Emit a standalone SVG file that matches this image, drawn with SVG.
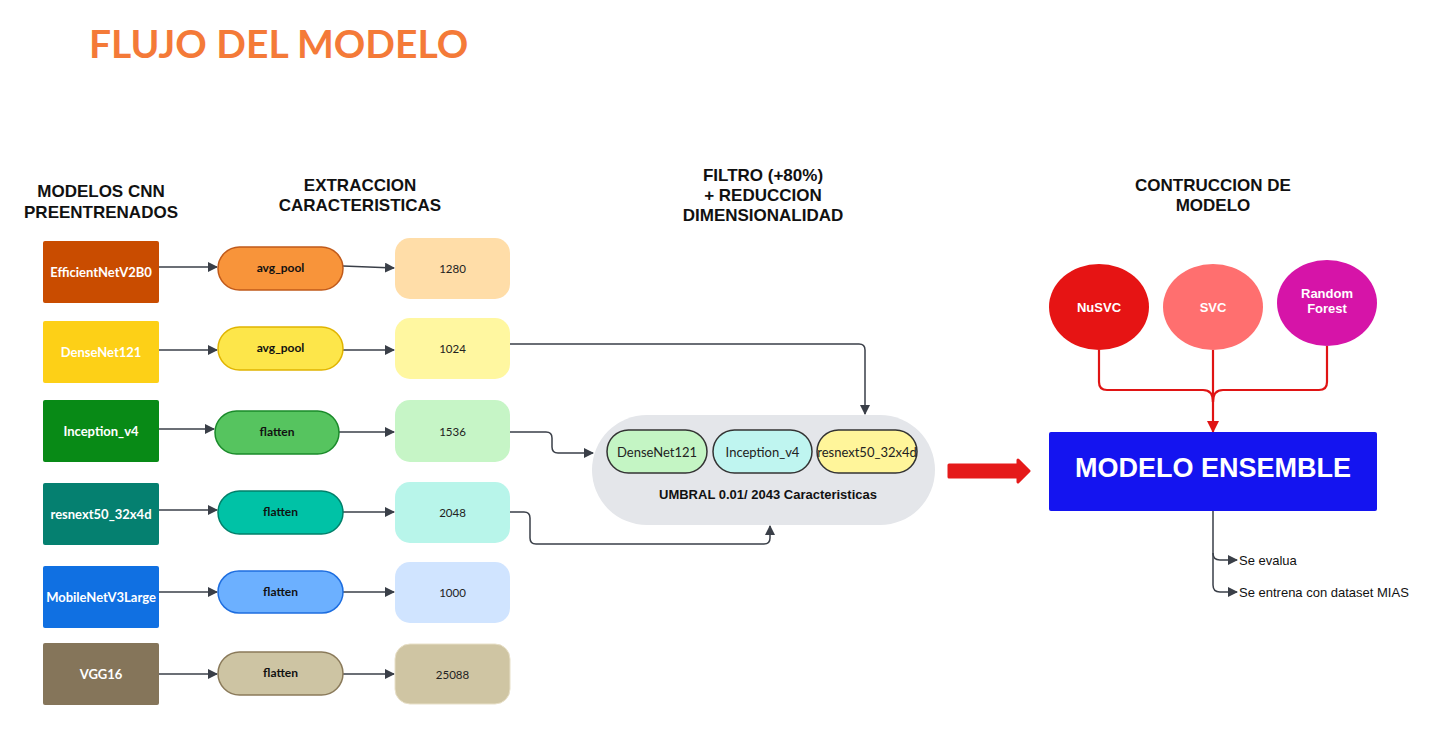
<svg xmlns="http://www.w3.org/2000/svg" width="1433" height="751" viewBox="0 0 1433 751">
<style>
.hdr{font-family:"Liberation Sans",Arial,sans-serif;font-weight:bold;font-size:17px;fill:#111;text-anchor:middle}
.bt{font-family:Lato,"Liberation Sans",sans-serif;font-weight:bold;font-size:13px;fill:#fff;text-anchor:middle}
.pt{font-family:Lato,"Liberation Sans",sans-serif;font-weight:bold;font-size:12px;fill:#111;text-anchor:middle}
.vt{font-family:Lato,"Liberation Sans",sans-serif;font-size:11.5px;fill:#222;text-anchor:middle}
.it{font-family:Lato,"Liberation Sans",sans-serif;font-size:13px;fill:#222;text-anchor:middle}
.ct{font-family:"Liberation Sans",Arial,sans-serif;font-weight:bold;font-size:13px;fill:#fff;text-anchor:middle}
.ot{font-family:"Liberation Sans",Arial,sans-serif;font-size:13px;fill:#111}
.cn{fill:none;stroke:#3a3f48;stroke-width:1.5}
.rc{fill:none;stroke:#e01414;stroke-width:2.2}
.pill{stroke-width:1.5}
</style>
<defs>
<marker id="ah" markerUnits="userSpaceOnUse" markerWidth="10" markerHeight="10" refX="9" refY="5" orient="auto">
<path d="M0,0 L10,5 L0,10 Z" fill="#3a3f48"/>
</marker>
<marker id="rh" markerUnits="userSpaceOnUse" markerWidth="12" markerHeight="12" refX="11" refY="6" orient="auto">
<path d="M0,0 L12,6 L0,12 Z" fill="#e01414"/>
</marker>
</defs>
<rect width="1433" height="751" fill="#fff"/>
<text x="89" y="58" font-family="Lato,'Liberation Sans',sans-serif" font-weight="bold" font-size="39" fill="#f47a38">FLUJO DEL MODELO</text>

<g id="headers">
<text class="hdr" x="101" y="197">MODELOS CNN</text>
<text class="hdr" x="101" y="218">PREENTRENADOS</text>
<text class="hdr" x="360" y="191">EXTRACCION</text>
<text class="hdr" x="360" y="211">CARACTERISTICAS</text>
<text class="hdr" x="763" y="181">FILTRO (+80%)</text>
<text class="hdr" x="763" y="201">+ REDUCCION</text>
<text class="hdr" x="763" y="221">DIMENSIONALIDAD</text>
<text class="hdr" x="1213" y="191">CONTRUCCION DE</text>
<text class="hdr" x="1213" y="211">MODELO</text>
</g>

<g id="connectors">
<path class="cn" marker-end="url(#ah)" d="M159,267 L217,267"/>
<path class="cn" marker-end="url(#ah)" d="M343,266 L394,268"/>
<path class="cn" marker-end="url(#ah)" d="M159,350 L217,350"/>
<path class="cn" marker-end="url(#ah)" d="M343,350 L394,350"/>
<path class="cn" marker-end="url(#ah)" d="M159,429 L214,429"/>
<path class="cn" marker-end="url(#ah)" d="M339,432 L394,432"/>
<path class="cn" marker-end="url(#ah)" d="M159,510 L217,510"/>
<path class="cn" marker-end="url(#ah)" d="M343,512 L394,512"/>
<path class="cn" marker-end="url(#ah)" d="M159,592 L217,592"/>
<path class="cn" marker-end="url(#ah)" d="M343,592 L394,592"/>
<path class="cn" marker-end="url(#ah)" d="M159,674 L217,674"/>
<path class="cn" marker-end="url(#ah)" d="M343,674 L394,674"/>
<path class="cn" marker-end="url(#ah)" d="M510,344 L859,344 Q865,344 865,350 L865,414"/>
<path class="cn" marker-end="url(#ah)" d="M510,432 L546,432 Q552,432 552,438 L552,447 Q552,453 558,453 L593,453"/>
<path class="cn" marker-end="url(#ah)" d="M510,512 L524,512 Q530,512 530,518 L530,538 Q530,544 536,544 L764,544 Q770,544 770,538 L770,526"/>
<path class="rc" d="M1099,350 L1099,382 Q1099,390 1107,390 L1203,390 Q1213,390 1213,402"/>
<path class="rc" d="M1327,346 L1327,382 Q1327,390 1319,390 L1223,390 Q1213,390 1213,402"/>
<path class="rc" marker-end="url(#rh)" d="M1213,350 L1213,432"/>
<path class="cn" d="M1213,511 L1213,585 Q1213,592 1220,592 L1237,592" marker-end="url(#ah)"/>
<path class="cn" d="M1213,553 Q1213,560 1220,560 L1237,560" marker-end="url(#ah)"/>
<path d="M949,465 L1018,465 L1018,460 L1029,471 L1018,482 L1018,477 L949,477 Z" fill="#e51a1a" stroke="#e51a1a" stroke-width="3" stroke-linejoin="round"/>
</g>

<g id="cnn-efficientnet"><rect x="43" y="241" width="116" height="62" rx="2" fill="#c94c00"/><text class="bt" x="101" y="276.5">EfficientNetV2B0</text></g>
<g id="cnn-densenet"><rect x="43" y="321" width="116" height="62" rx="2" fill="#fdd017"/><text class="bt" x="101" y="356.5">DenseNet121</text></g>
<g id="cnn-inception"><rect x="43" y="400" width="116" height="62" rx="2" fill="#088a16"/><text class="bt" x="101" y="435.5">Inception_v4</text></g>
<g id="cnn-resnext"><rect x="43" y="483" width="116" height="62" rx="2" fill="#058070"/><text class="bt" x="101" y="518.5">resnext50_32x4d</text></g>
<g id="cnn-mobilenet"><rect x="43" y="566" width="116" height="62" rx="2" fill="#1070e2"/><text class="bt" x="101" y="601.5">MobileNetV3Large</text></g>
<g id="cnn-vgg"><rect x="43" y="643" width="116" height="62" rx="2" fill="#85755a"/><text class="bt" x="101" y="678.5">VGG16</text></g>

<g id="ext-1"><rect class="pill" x="218" y="247" width="125" height="43" rx="21.5" fill="#f8943a" stroke="#c05a1a"/><text class="pt" x="280.5" y="272">avg_pool</text></g>
<g id="ext-2"><rect class="pill" x="218" y="327" width="125" height="43" rx="21.5" fill="#fde64a" stroke="#e0b400"/><text class="pt" x="280.5" y="352">avg_pool</text></g>
<g id="ext-3"><rect class="pill" x="215" y="411" width="124" height="43" rx="21.5" fill="#56c45f" stroke="#1a8a2a"/><text class="pt" x="277" y="436">flatten</text></g>
<g id="ext-4"><rect class="pill" x="218" y="491" width="125" height="43" rx="21.5" fill="#00c2a6" stroke="#00806a"/><text class="pt" x="280.5" y="516">flatten</text></g>
<g id="ext-5"><rect class="pill" x="218" y="571" width="125" height="42" rx="21" fill="#6cb0ff" stroke="#1e6ee0"/><text class="pt" x="280.5" y="596">flatten</text></g>
<g id="ext-6"><rect class="pill" x="218" y="652" width="125" height="43" rx="21.5" fill="#cdc4a3" stroke="#8a7a5a"/><text class="pt" x="280.5" y="677">flatten</text></g>

<g id="val-1"><rect x="395" y="238" width="115" height="61" rx="15" fill="#ffdda8"/><text class="vt" x="452.5" y="273">1280</text></g>
<g id="val-2"><rect x="395" y="318" width="115" height="61" rx="15" fill="#fff7a0"/><text class="vt" x="452.5" y="353">1024</text></g>
<g id="val-3"><rect x="395" y="400" width="115" height="62" rx="15" fill="#c6f5c6"/><text class="vt" x="452.5" y="436">1536</text></g>
<g id="val-4"><rect x="395" y="482" width="115" height="61" rx="15" fill="#b8f5ea"/><text class="vt" x="452.5" y="517">2048</text></g>
<g id="val-5"><rect x="395" y="562" width="115" height="61" rx="15" fill="#d0e4ff"/><text class="vt" x="452.5" y="597">1000</text></g>
<g id="val-6"><rect x="395" y="644" width="115" height="60" rx="15" fill="#cfc5a3" stroke="#e8e0c8" stroke-width="1"/><text class="vt" x="452.5" y="679">25088</text></g>

<g id="filtro">
<rect x="592" y="415" width="343" height="110" rx="55" fill="#e4e6ea"/>
<rect class="pill" x="607" y="430" width="100" height="43" rx="21.5" fill="#c4f5c4" stroke="#333"/>
<text class="it" x="657" y="456.5">DenseNet121</text>
<rect class="pill" x="713" y="430" width="99" height="43" rx="21.5" fill="#bff5f0" stroke="#333"/>
<text class="it" x="762.5" y="456.5">Inception_v4</text>
<rect class="pill" x="817" y="430" width="100" height="43" rx="21.5" fill="#fff59a" stroke="#333"/>
<text class="it" x="867" y="456.5">resnext50_32x4d</text>
<text x="768" y="499" font-family="'Liberation Sans',Arial,sans-serif" font-weight="bold" font-size="13" fill="#111" text-anchor="middle">UMBRAL 0.01/ 2043 Caracteristicas</text>
</g>

<g id="nusvc"><ellipse cx="1099" cy="307" rx="50" ry="43" fill="#e61414"/><text class="ct" x="1099" y="311.5">NuSVC</text></g>
<g id="svc"><ellipse cx="1213" cy="307" rx="50" ry="43" fill="#ff6f6f"/><text class="ct" x="1213" y="311.5">SVC</text></g>
<g id="randomforest"><ellipse cx="1327" cy="303" rx="50" ry="43" fill="#d614a8"/><text class="ct" x="1327" y="297.5">Random</text><text class="ct" x="1327" y="313">Forest</text></g>

<g id="ensemble"><rect x="1049" y="432" width="328" height="79" rx="2" fill="#1414f0"/><text x="1213" y="477" font-family="'Liberation Sans',Arial,sans-serif" font-weight="bold" font-size="27" fill="#fff" text-anchor="middle">MODELO ENSEMBLE</text></g>

<g id="outputs">
<text class="ot" x="1239" y="565">Se evalua</text>
<text class="ot" x="1239" y="597">Se entrena con dataset MIAS</text>
</g>
</svg>
